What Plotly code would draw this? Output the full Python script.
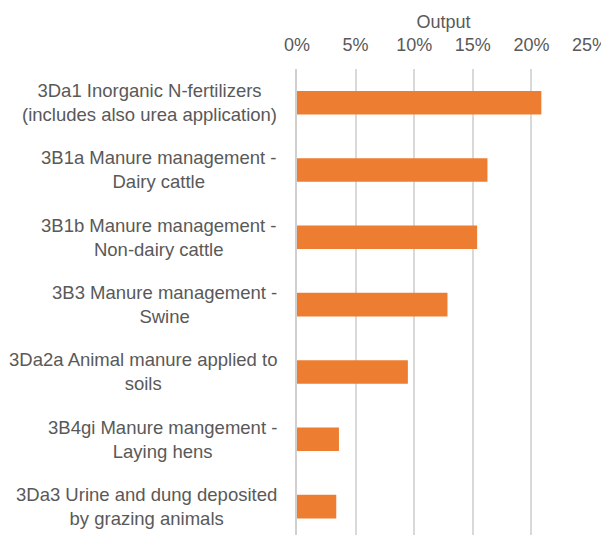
import plotly.graph_objects as go

# categories, top to bottom
categories = [
    "3Da1 Inorganic N-fertilizers<br>(includes also urea application)",
    "3B1a Manure management -<br>Dairy cattle",
    "3B1b Manure management -<br>Non-dairy cattle",
    "3B3 Manure management -<br>Swine",
    "3Da2a Animal manure applied to<br>soils",
    "3B4gi Manure mangement -<br>Laying hens",
    "3Da3 Urine and dung deposited<br>by grazing animals",
]
output_share = [0.2085, 0.1625, 0.1537, 0.1284, 0.0946, 0.0358, 0.0335]
x_ticks = [0, 0.05, 0.10, 0.15, 0.20, 0.25]

text_grey = "#595959"
bar_orange = "#ED7D31"

fig = go.Figure()
fig.add_trace(go.Bar(
    x=output_share,
    y=list(range(len(categories))),
    orientation="h",
    marker=dict(color=bar_orange, line=dict(width=0)),
    width=0.35,
    showlegend=False,
))

# category labels, centred lines, right edge next to the axis
for i, label in enumerate(categories):
    fig.add_annotation(
        x=0, xref="paper", xanchor="right", xshift=-18,
        y=i, yref="y",
        text=label, showarrow=False, align="center",
        font=dict(size=18.5, color=text_grey),
    )

fig.update_layout(
    width=609, height=535,
    margin=dict(l=289, r=27, t=61, b=0, autoexpand=False),
    paper_bgcolor="white", plot_bgcolor="white",
    font=dict(family="Liberation Sans, Arial, sans-serif", size=18, color=text_grey),
    bargap=0.65,
)
fig.update_xaxes(
    side="top", range=[0, 0.25], tickvals=x_ticks, tickformat=".0%",
    showgrid=True, gridcolor="#d9d9d9", gridwidth=2,
    zeroline=False, showline=False, ticks="", ticklabelstandoff=13,
    automargin=False,
    title=dict(text="Output", standoff=2, font=dict(size=18, color=text_grey)),
    tickfont=dict(size=18, color=text_grey),
)
fig.update_yaxes(
    range=[6.54, -0.5], showticklabels=False, showgrid=False, zeroline=False,
    showline=True, linecolor="#d0d0d0", linewidth=2, automargin=False,
)

fig.write_html("out.html")
